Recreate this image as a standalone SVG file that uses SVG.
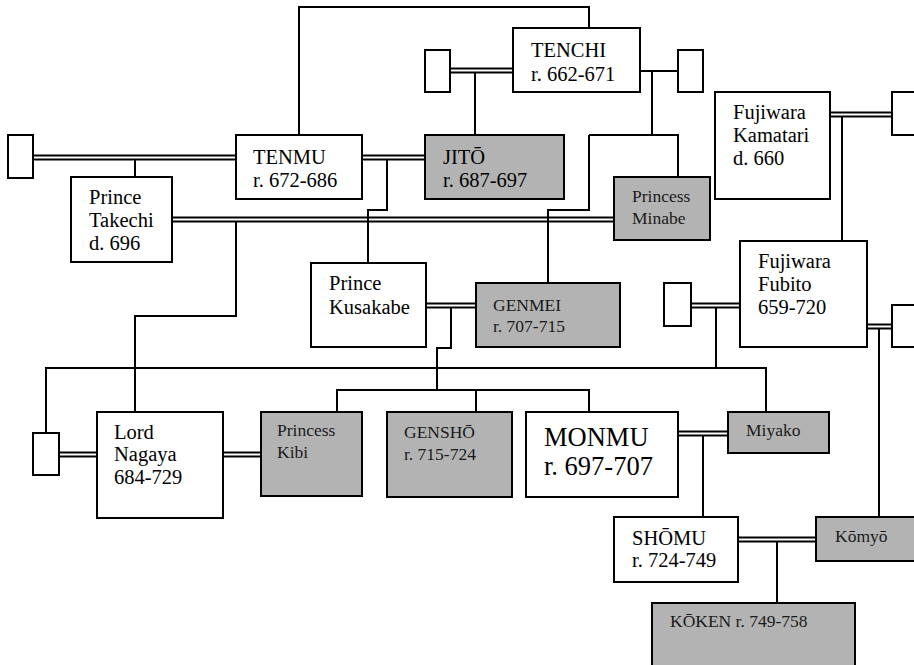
<svg xmlns="http://www.w3.org/2000/svg" width="914" height="665" viewBox="0 0 914 665">
<style>
.b{fill:#fff;stroke:#000;stroke-width:2}
.g{fill:#b3b3b3;stroke:#000;stroke-width:2}
.l{fill:none;stroke:#000;stroke-width:2}
.t,.s,.m{font-family:'Liberation Serif','DejaVu Serif','Times New Roman',serif;fill:#000}
.t{font-size:20.5px}
.s{font-size:17.5px;fill:#1a1a1a}
.m{font-size:26.5px}
</style>
<rect width="914" height="665" fill="#fff"/>
<g id="connectors" class="l">
<path d="M33 155.5H236M33 159.5H236"/>
<path d="M362 155.5H425M362 159.5H425"/>
<path d="M450 68.5H513M450 72.5H513"/>
<path d="M172 217.5H614M172 221.5H614"/>
<path d="M830 112.5H892M830 116.5H892"/>
<path d="M426 303.5H476M426 307.5H476"/>
<path d="M691 303.5H740M691 307.5H740"/>
<path d="M867 324.5H892M867 328.5H892"/>
<path d="M59 452.5H97M59 456.5H97"/>
<path d="M223 452.5H261M223 456.5H261"/>
<path d="M678 431.5H728M678 435.5H728"/>
<path d="M738 537.5H816M738 541.5H816"/>
<path d="M640 71H678"/>
<path d="M135 159.5V177"/>
<path d="M299 135V7H589V28"/>
<path d="M475 72.5V135"/>
<path d="M387 159.5V210H368V263"/>
<path d="M652 71V135"/>
<path d="M589 135H678V177"/>
<path d="M589 135V210H548V283"/>
<path d="M236 221.5V316H135V412"/>
<path d="M842 116.5V241"/>
<path d="M716 307.5V368"/>
<path d="M46 433V368H766V412"/>
<path d="M451 307.5V348H437V390"/>
<path d="M337 412V390H589V412"/>
<path d="M476 390V412"/>
<path d="M879 328.5V517"/>
<path d="M703 435.5V517"/>
<path d="M777 541.5V603"/>
</g>
<g id="spouse-tenmu"><rect class="b" x="8" y="135" width="25" height="43"/></g>
<g id="tenmu"><rect class="b" x="236" y="135" width="126" height="64"/><text class="t" x="253" y="164">TENMU</text><text class="t" x="253" y="187">r. 672-686</text></g>
<g id="spouse-tenchi-1"><rect class="b" x="425" y="50" width="25" height="42"/></g>
<g id="tenchi"><rect class="b" x="513" y="28" width="127" height="64"/><text class="t" x="531" y="57">TENCHI</text><text class="t" x="531" y="81">r. 662-671</text></g>
<g id="spouse-tenchi-2"><rect class="b" x="678" y="50" width="25" height="42"/></g>
<g id="jito"><rect class="g" x="425" y="135" width="139" height="64"/><text class="t" x="443" y="164">JITŌ</text><text class="t" x="443" y="187">r. 687-697</text></g>
<g id="takechi"><rect class="b" x="71" y="177" width="101" height="85"/><text class="t" x="89" y="204">Prince</text><text class="t" x="89" y="227">Takechi</text><text class="t" x="89" y="250">d. 696</text></g>
<g id="minabe"><rect class="g" x="614" y="177" width="96" height="63"/><text class="s" x="632" y="202">Princess</text><text class="s" x="632" y="224">Minabe</text></g>
<g id="kamatari"><rect class="b" x="715" y="92" width="115" height="107"/><text class="t" x="733" y="119">Fujiwara</text><text class="t" x="733" y="142">Kamatari</text><text class="t" x="733" y="165">d. 660</text></g>
<g id="spouse-kamatari"><rect class="b" x="892" y="92" width="30" height="43"/></g>
<g id="kusakabe"><rect class="b" x="311" y="263" width="115" height="84"/><text class="t" x="329" y="290">Prince</text><text class="t" x="329" y="314">Kusakabe</text></g>
<g id="genmei"><rect class="g" x="476" y="283" width="144" height="64"/><text class="s" x="493" y="311">GENMEI</text><text class="s" x="493" y="332">r. 707-715</text></g>
<g id="spouse-fubito-1"><rect class="b" x="664" y="283" width="27" height="43"/></g>
<g id="fubito"><rect class="b" x="740" y="241" width="127" height="106"/><text class="t" x="758" y="268">Fujiwara</text><text class="t" x="758" y="291">Fubito</text><text class="t" x="758" y="314">659-720</text></g>
<g id="spouse-fubito-2"><rect class="b" x="892" y="305" width="30" height="42"/></g>
<g id="spouse-nagaya"><rect class="b" x="33" y="433" width="26" height="42"/></g>
<g id="nagaya"><rect class="b" x="97" y="412" width="126" height="106"/><text class="t" x="114" y="439">Lord</text><text class="t" x="114" y="461">Nagaya</text><text class="t" x="114" y="484">684-729</text></g>
<g id="kibi"><rect class="g" x="261" y="412" width="101" height="84"/><text class="s" x="277" y="436">Princess</text><text class="s" x="277" y="458">Kibi</text></g>
<g id="gensho"><rect class="g" x="387" y="412" width="125" height="85"/><text class="s" x="404" y="438">GENSHŌ</text><text class="s" x="404" y="460">r. 715-724</text></g>
<g id="monmu"><rect class="b" x="526" y="412" width="152" height="85"/><text class="m" x="544" y="446">MONMU</text><text class="m" x="544" y="475">r. 697-707</text></g>
<g id="miyako"><rect class="g" x="728" y="412" width="101" height="41"/><text class="s" x="746" y="436">Miyako</text></g>
<g id="shomu"><rect class="b" x="614" y="517" width="124" height="65"/><text class="t" x="632" y="545">SHŌMU</text><text class="t" x="632" y="567">r. 724-749</text></g>
<g id="komyo"><rect class="g" x="816" y="517" width="110" height="44"/><text class="s" x="835" y="542">Kōmyō</text></g>
<g id="koken"><rect class="g" x="652" y="603" width="203" height="70"/><text class="s" x="670" y="627">KŌKEN r. 749-758</text></g>
</svg>
